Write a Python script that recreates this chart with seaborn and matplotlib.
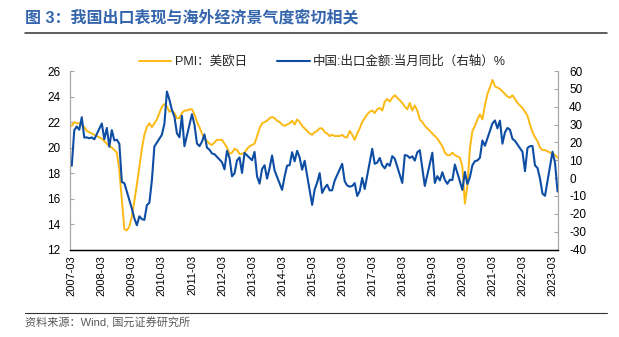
import numpy as np
import pandas as pd
import matplotlib
matplotlib.use("Agg")
import matplotlib.pyplot as plt
import seaborn as sns

# ---------------- data ----------------
months = pd.date_range("2007-03-01", "2023-05-01", freq="MS")

pmi_us_eu_jp = [
    21.7, 22.0, 21.9, 21.9, 21.8, 21.6, 21.3, 21.2, 21.1, 21.0,
    20.9, 20.8, 20.7, 20.5, 20.3, 20.1, 20.0, 19.8, 19.6, 18.2, 15.9, 13.6,
    13.5, 13.8, 14.6, 15.8, 17.1, 18.5, 19.9, 21.0, 21.6, 21.9, 21.6, 21.9,
    22.2, 22.7, 23.2, 23.4, 23.2, 22.8, 22.9, 22.7, 22.3, 22.3, 22.7, 22.9,
    22.9, 23.0, 23.0, 22.6, 22.0, 21.6, 21.1, 20.7, 20.5, 20.3, 20.2, 20.4,
    20.6, 20.6, 20.6, 20.3, 20.0, 19.5, 19.6, 19.9, 19.8, 19.5, 19.5, 19.6,
    19.9, 20.1, 20.2, 20.3, 20.9, 21.5, 21.9, 22.0, 22.1, 22.3, 22.4, 22.3,
    22.1, 22.0, 21.8, 21.7, 21.8, 21.9, 22.1, 21.8, 22.2, 22.0, 21.7, 21.5,
    21.3, 21.1, 21.0, 21.2, 21.3, 21.5, 21.5, 21.2, 21.1, 20.9, 21.0, 20.9,
    20.9, 20.9, 21.0, 20.8, 20.8, 21.3, 21.0, 20.6, 21.1, 21.5, 22.0, 22.3,
    22.6, 22.8, 22.9, 22.7, 23.0, 23.1, 22.9, 23.6, 23.8, 23.6, 23.9, 24.1,
    23.9, 23.7, 23.5, 23.2, 23.0, 23.5, 22.9, 23.3, 22.9, 22.2, 22.0, 21.7,
    21.5, 21.3, 21.1, 20.9, 20.7, 20.4, 20.1, 19.6, 19.4, 19.4, 19.6, 19.4,
    19.3, 19.2, 18.5, 15.6, 17.0, 19.9, 21.3, 21.7, 22.2, 22.6, 22.2, 23.3,
    24.2, 24.7, 25.3, 24.8, 24.7, 24.6, 24.4, 24.2, 24.0, 23.9, 24.1, 23.8,
    23.5, 23.3, 23.1, 22.8, 22.5, 21.8, 21.2, 20.8, 20.5, 20.0, 19.8, 19.8,
    19.7, 19.6, 19.5, 19.4, 19.2,
]

N = None
export_yoy = [
    6.9, 26.8, 28.9, 27.1, 34.1, 22.7, 22.8, 22.3, 22.8, 21.7,
    N, N, 30.6, 21.8, 28.1, 17.6, 26.9, 21.1, 21.5, 19.2, -2.2, -2.8,
    N, N, -17.1, -22.6, -26.4, -21.4, -23.0, -23.4, -15.2, -13.8, -1.2, 17.7,
    N, N, 24.3, 30.5, 48.5, 43.9, 38.1, 34.4, 25.1, 22.9, 34.9, 17.9,
    N, N, 35.8, 29.9, 19.4, 17.9, 20.4, 24.5, 17.1, 15.9, 13.8, 13.4,
    N, N, 8.9, 4.9, 15.3, 11.3, 1.0, 2.7, 9.9, 11.6, 2.9, 14.1,
    N, N, 10.0, 14.7, 1.0, -3.1, 5.1, 7.2, -0.3, 5.6, 12.7, 4.3,
    N, N, -6.6, 0.9, 7.0, 7.2, 14.5, 9.4, 15.3, 11.6, 4.7, 9.7,
    N, N, -15.0, -6.4, -2.5, 2.8, -8.3, -5.5, -3.7, -6.9, -6.8, -1.4,
    N, N, 8.0, -1.8, -4.1, -4.8, -4.4, -2.8, -10.0, -7.3, 0.1, -6.1,
    N, N, 16.4, 8.0, 8.7, 11.3, 7.2, 5.5, 8.1, 6.9, 12.3, 10.9,
    N, N, -2.7, 12.9, 12.6, 11.3, 12.2, 9.8, 14.5, 15.6, 5.4, -4.4,
    N, N, 14.2, -2.7, 1.1, -1.3, 3.3, -1.0, -3.2, -0.9, -1.1, 7.6,
    N, N, -6.6, 3.5, -3.3, 0.5, 7.2, 9.5, 9.9, 11.4, 21.1, 18.1,
    N, N, 30.6, 32.3, 27.9, 32.2, 19.3, 25.6, 28.1, 27.1, 22.0, 20.9,
    N, N, 14.7, 3.9, 16.9, 17.9, 18.0, 7.1, 5.7, -0.3, -8.7, -9.9,
    N, N, 14.8, 8.5, -7.5,
]

label_pmi = "PMI：美欧日"
label_exp = "中国:出口金额:当月同比（右轴）%"
title = "图 3：我国出口表现与海外经济景气度密切相关"
source = "资料来源：Wind, 国元证券研究所"

df = pd.DataFrame({"date": months,
                   "pmi": pmi_us_eu_jp,
                   "exp": pd.array(export_yoy, dtype="Float64").astype(float)})
df["idx"] = np.arange(len(df))
tick_idx = df.index[df["date"].dt.month == 3].tolist()
tick_lab = df.loc[tick_idx, "date"].dt.strftime("%Y-%m").tolist()

# ---------------- style ----------------
sns.set_style("white")
plt.rcParams["font.family"] = ["Liberation Sans", "Noto Sans CJK SC", "DejaVu Sans"]
plt.rcParams["axes.unicode_minus"] = False

ORANGE = "#FDB913"
BLUE = "#0E4DA4"
GRAY = "#A6A6A6"

fig = plt.figure(figsize=(6.19, 3.37), dpi=100)
ax = fig.add_axes([0.1131, 0.2596, 0.7884, 0.5297])
ax2 = ax.twinx()

sns.lineplot(data=df, x="idx", y="pmi", ax=ax, color=ORANGE, linewidth=1.4,
             label=label_pmi, legend=False)
sns.lineplot(data=df.dropna(subset=["exp"]), x="idx", y="exp", ax=ax2,
             color=BLUE, linewidth=1.5, label=label_exp, legend=False)

ax.set_xlim(-0.7, 194.2)
ax.set_ylim(12, 26)
ax.set_yticks(np.arange(12, 27, 2))
ax2.set_ylim(-40, 60)
ax2.set_yticks(np.arange(-40, 61, 10))
ax.set_xticks(tick_idx)
ax.set_xticklabels(tick_lab, rotation=90, fontsize=8)
ax.set_xlabel("")
ax.set_ylabel("")
ax2.set_ylabel("")

for a in (ax, ax2):
    a.spines["top"].set_visible(False)
    a.spines["left"].set_color(GRAY)
    a.spines["right"].set_color(GRAY)
    a.spines["bottom"].set_color("#000000")
    a.spines["bottom"].set_linewidth(0.9)
    a.grid(False)

ax.tick_params(axis="y", direction="in", length=3, color=GRAY, labelsize=8.5,
               pad=7, labelcolor="#000000")
ax2.tick_params(axis="y", direction="in", length=3, color=GRAY, labelsize=8.5,
                pad=8, labelcolor="#000000")
ax.tick_params(axis="x", direction="in", length=3.5, color="#000000", pad=4,
               labelcolor="#000000")

# legend
h1, l1 = ax.get_legend_handles_labels()
h2, l2 = ax2.get_legend_handles_labels()
fig.legend(h1 + h2, l1 + l2, loc="center", bbox_to_anchor=(0.521, 0.816),
           ncol=2, frameon=False, fontsize=9, handlelength=2.6,
           columnspacing=2.4, handletextpad=0.3)

# title & decorations
fig.text(25 / 619, 1 - 17 / 337, title, fontsize=11.5, fontweight="bold",
         color="#3465AD", va="center", ha="left")
fig.add_artist(plt.Line2D([25 / 619, 607 / 619], [1 - 33.3 / 337] * 2,
                          color="#333333", linewidth=1.1))
fig.add_artist(plt.Line2D([25 / 619, 607 / 619], [1 - 312.7 / 337] * 2,
                          color="#333333", linewidth=0.8))
fig.text(25 / 619, 1 - 323 / 337, source, fontsize=8, color="#595959",
         va="center", ha="left")

fig.savefig("out.png", dpi=100)
